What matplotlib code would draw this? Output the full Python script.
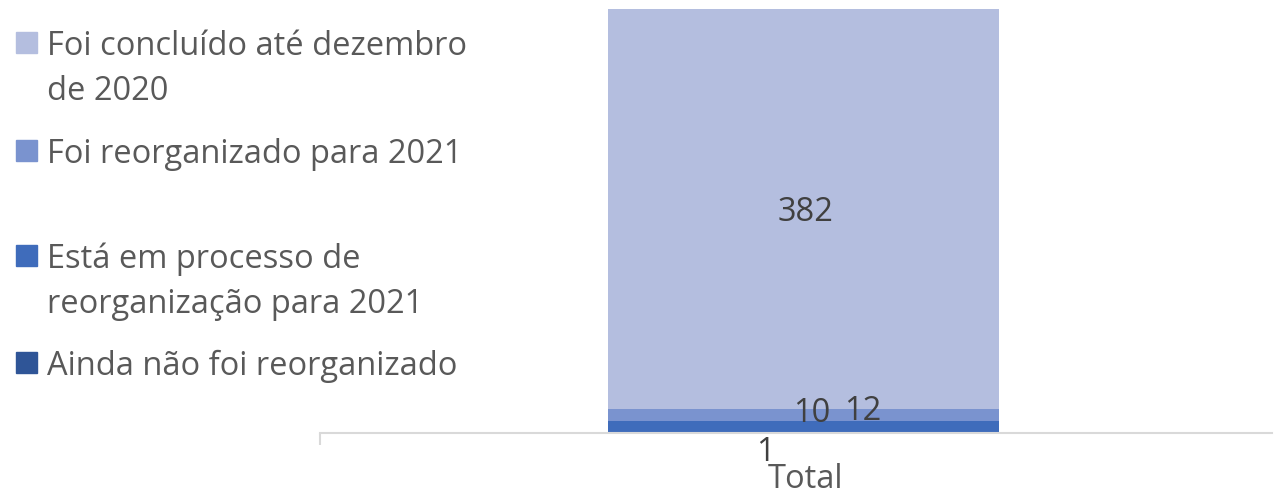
import matplotlib
matplotlib.use("Agg")
import matplotlib.pyplot as plt
from matplotlib.patches import Rectangle

categories = ["Total"]
series_names = [
    "Ainda não foi reorganizado",
    "Está em processo de\nreorganização para 2021",
    "Foi reorganizado para 2021",
    "Foi concluído até dezembro\nde 2020",
]
series_values = [1, 10, 12, 382]
series_colors = ["#2F5597", "#3F6CBB", "#7A93CF", "#B4BEDF"]
label_offsets_px = [(-38, -20), (8, 13), (59, 4), (2, -4)]

plt.rcParams['font.family'] = ['Open Sans', 'DejaVu Sans']
TXT = "#595959"
FS = 23.5
DPI = 100

fig = plt.figure(figsize=(12.74, 4.97), dpi=DPI)
W, H = 1274, 497
ax = fig.add_axes([320 / W, 1 - 433 / H, (1272 - 320) / W, 433 / H])

bottom = 0
for name, val, col, off in zip(series_names, series_values, series_colors, label_offsets_px):
    ax.bar(0, val, bottom=bottom, width=0.41, color=col, edgecolor='none')
    ax.annotate(str(val), xy=(0, bottom + val / 2), xycoords='data',
                xytext=(off[0] * 72 / DPI, off[1] * 72 / DPI), textcoords='offset points',
                ha='center', va='center', fontsize=FS, color="#404040")
    bottom += val

ax.set_xlim(-0.508, 0.492)
ax.set_ylim(0, 413.5)
ax.set_xticks([])
ax.set_yticks([])
ax.annotate(categories[0], xy=(0, 0), xycoords='data',
            xytext=(2 * 72 / DPI, -55 * 72 / DPI), textcoords='offset points',
            ha='center', va='baseline', fontsize=FS, color=TXT)
for s in ['top', 'right', 'left']:
    ax.spines[s].set_visible(False)
ax.spines['bottom'].set_color('#D9D9D9')
ax.spines['bottom'].set_linewidth(1.5)
ax.plot([-0.508, -0.508], [0, -12 * 413.5 / 433], color='#D9D9D9', lw=1.5,
        clip_on=False, solid_capstyle='butt')

# legend (manual)
legend_entries = [
    (3, 43, 55),
    (2, 151, 163),
    (1, 256, 268),
    (0, 363, 375),
]
for idx, ysq, ybase in legend_entries:
    fig.patches.append(Rectangle((16 / W, 1 - (ysq + 10) / H), 21 / W, 21 / H,
                                 transform=fig.transFigure, color=series_colors[idx]))
    fig.text(47 / W, 1 - ybase / H, series_names[idx].split("\n")[0],
             fontsize=FS, color=TXT, va='baseline', ha='left')
    if "\n" in series_names[idx]:
        fig.text(47 / W, 1 - (ybase + 45) / H, series_names[idx].split("\n")[1],
                 fontsize=FS, color=TXT, va='baseline', ha='left')

fig.savefig("out.png", dpi=DPI)
